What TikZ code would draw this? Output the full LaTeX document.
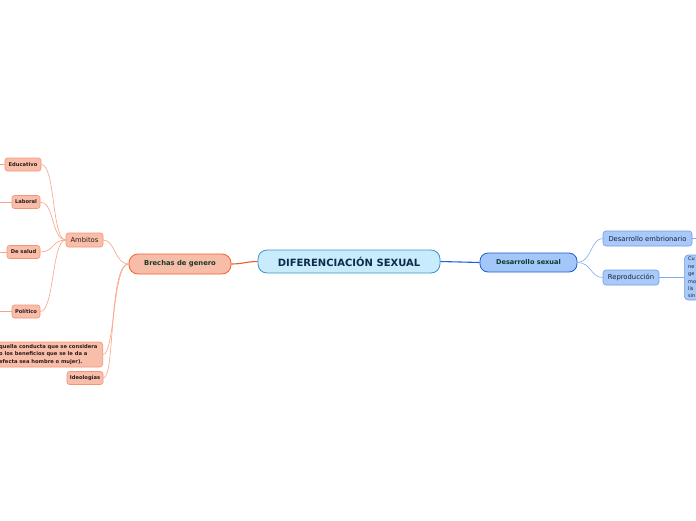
\documentclass[tikz,border=0pt]{standalone}
\usepackage{fontspec}
\setmainfont{DejaVu Sans}
\definecolor{rootf}{HTML}{C8ECFB}
\definecolor{rootb}{HTML}{3C92D6}
\definecolor{roott}{HTML}{0E2A4E}
\definecolor{dsf}{HTML}{A3C7F9}
\definecolor{dsb}{HTML}{1B5ED2}
\definecolor{dst}{HTML}{0C3B2A}
\definecolor{bluef}{HTML}{A9CAF8}
\definecolor{blueb}{HTML}{6E9FE6}
\definecolor{bluet}{HTML}{14203A}
\definecolor{bline}{HTML}{7FAEEE}
\definecolor{rline}{HTML}{1664D6}
\definecolor{bgf}{HTML}{F8BDA8}
\definecolor{bgb}{HTML}{EE6235}
\definecolor{bgt}{HTML}{183A2A}
\definecolor{orf}{HTML}{F9BEAA}
\definecolor{orb}{HTML}{F49478}
\definecolor{ort}{HTML}{2A1A1A}
\definecolor{oline}{HTML}{F8A486}
\definecolor{bgline}{HTML}{EF5A2A}
\begin{document}
\begin{tikzpicture}[x=1pt,y=-1pt,
  every node/.style={inner sep=0pt},
  rootbox/.style={draw=rootb, fill=rootf, line width=0.8pt, rounded corners=9pt,
    minimum width=182pt, minimum height=23pt,
    font=\fontsize{10}{12}\selectfont\bfseries, text=roott},
  dsbox/.style={draw=dsb, fill=dsf, line width=0.8pt, rounded corners=8pt,
    minimum width=97pt, minimum height=19pt,
    font=\fontsize{6.6}{8}\selectfont\bfseries, text=dst},
  bluebox/.style={draw=blueb, fill=bluef, line width=0.6pt, rounded corners=3pt,
    minimum height=15pt, font=\fontsize{6.8}{8}\selectfont, text=bluet},
  bgbox/.style={draw=bgb, fill=bgf, line width=0.8pt, rounded corners=9pt,
    minimum width=102pt, minimum height=20pt,
    font=\fontsize{6.8}{8}\selectfont\bfseries, text=bgt},
  orbox/.style={draw=orb, fill=orf, line width=0.6pt, rounded corners=2.5pt,
    minimum height=13pt, font=\fontsize{5.2}{6}\selectfont\bfseries, text=ort},
  ambox/.style={draw=orb, fill=orf, line width=0.6pt, rounded corners=2.5pt,
    minimum width=37pt, minimum height=14pt, font=\fontsize{6.8}{8}\selectfont, text=ort},
  ocon/.style={draw=oline, line width=0.6pt},
  bcon/.style={draw=bline, line width=0.6pt}
]
\useasboundingbox (0,0) rectangle (696,520);
\fill[white] (0,0) rectangle (696,520);
\clip (0,0) rectangle (696,520);

% main nodes
\node[rootbox] (root) at (349,261.5) {DIFERENCIACIÓN SEXUAL};
\node[dsbox] (ds) at (528.5,262.5) {Desarrollo sexual};
\node[bgbox] (bg) at (180,264) {Brechas de genero};

% right branch
\node[bluebox, minimum width=89pt] (emb) at (647.5,238.5) {Desarrollo embrionario};
\node[bluebox, minimum width=56pt] (rep) at (631,277.5) {Reproducción};
\node[draw=blueb, fill=bluef, line width=0.6pt, rounded corners=4pt,
  minimum width=80pt, minimum height=45pt, anchor=west] (rbox) at (684,277.5) {};
\node[anchor=west, align=left, font=\fontsize{5}{7.4}\selectfont, text=bluet] (rtxt) at (688,277.5)
  {Cu\\ne\\ge\\mo\\lis\\sin};
\coordinate (embout) at (700,238.5);

% left branch
\node[ambox] (amb) at (84.5,240) {Ambitos};
\node[orbox, minimum width=36pt] (edu) at (23,164.5) {Educativo};
\node[orbox, minimum width=28pt] (lab) at (26,202) {Laboral};
\node[orbox, minimum width=33pt] (sal) at (23.5,252) {De salud};
\node[orbox, minimum width=28pt] (pol) at (26,311.5) {Político};
\node[draw=orb, fill=orf, line width=0.6pt, rounded corners=3pt,
  minimum width=150pt, minimum height=25pt, anchor=east] (def) at (103,354.5) {};
\node[anchor=west, align=left, font=\fontsize{5.2}{7.4}\selectfont\bfseries, text=ort] (deftxt) at (-1,354.5)
  {quella conducta que se considera\\o los beneficios que se le da a\\efecta sea hombre o mujer).};
\node[orbox, minimum width=36pt] (ide) at (85,378) {Ideologías};

\coordinate (edu0) at (-5,164.5);
\coordinate (lab0) at (-5,202);
\coordinate (sal0) at (-5,252);
\coordinate (pol0) at (-5,311.5);

% connectors
\draw[draw=rline, line width=1.1pt] (root.east) -- (ds.west);
\draw[draw=bgline, line width=1.1pt] (root.west) .. controls +(-10,0) and +(10,0) .. (bg.east);
\draw[bcon] (ds.east) .. controls +(14,0) and +(-12,0) .. (emb.west);
\draw[bcon] (ds.east) .. controls +(14,0) and +(-12,0) .. (rep.west);
\draw[bcon] (emb.east) -- (embout);
\draw[bcon] (rep.east) -- (rbox.west);

\draw[ocon] (bg.west) .. controls +(-14,0) and +(12,0) .. (amb.east);
\draw[ocon] (bg.west) .. controls +(-16,0) and +(12,0) .. (def.east);
\draw[ocon] (bg.west) .. controls +(-20,0) and +(12,0) .. (ide.east);
\draw[ocon] (amb.west) .. controls +(-14,0) and +(14,0) .. (edu.east);
\draw[ocon] (amb.west) .. controls +(-14,0) and +(14,0) .. (lab.east);
\draw[ocon] (amb.west) .. controls +(-14,0) and +(14,0) .. (sal.east);
\draw[ocon] (amb.west) .. controls +(-14,0) and +(14,0) .. (pol.east);
\draw[ocon] (edu.west) -- (edu0);
\draw[ocon] (lab.west) -- (lab0);
\draw[ocon] (sal.west) -- (sal0);
\draw[ocon] (pol.west) -- (pol0);
\end{tikzpicture}
\end{document}
